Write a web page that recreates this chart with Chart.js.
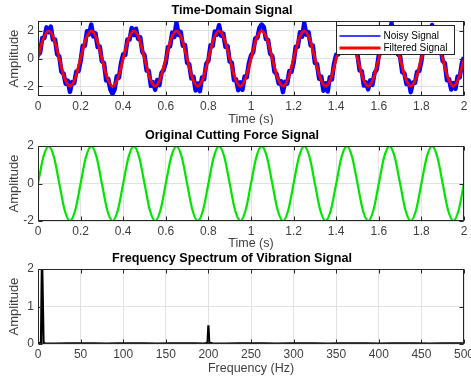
<!DOCTYPE html>
<html>
<head>
<meta charset="utf-8">
<script src="https://cdn.jsdelivr.net/npm/chart.js@4/dist/chart.umd.min.js"></script>
<style>
  html, body { margin: 0; padding: 0; background: #fff; }
  .painel { position: absolute; left: 0; width: 471px; height: 125px; }
</style>
</head>
<body>
<div class="painel" style="top:0"><canvas id="graficoTempo"></canvas></div>
<div class="painel" style="top:125px; height:129px"><canvas id="graficoForca"></canvas></div>
<div class="painel" style="top:248px; height:132px"><canvas id="graficoEspectro"></canvas></div>
<script>
// amostras finas (sinal com ruido), passo 0.01 s
const timeFine = [
  0, 0.01, 0.02, 0.03, 0.04, 0.05, 0.06, 0.07, 0.08, 0.09, 0.1, 0.11, 0.12, 0.13, 0.14, 0.15, 0.16, 0.17, 0.18, 0.19,
  0.2, 0.21, 0.22, 0.23, 0.24, 0.25, 0.26, 0.27, 0.28, 0.29, 0.3, 0.31, 0.32, 0.33, 0.34, 0.35, 0.36, 0.37, 0.38, 0.39,
  0.4, 0.41, 0.42, 0.43, 0.44, 0.45, 0.46, 0.47, 0.48, 0.49, 0.5, 0.51, 0.52, 0.53, 0.54, 0.55, 0.56, 0.57, 0.58, 0.59,
  0.6, 0.61, 0.62, 0.63, 0.64, 0.65, 0.66, 0.67, 0.68, 0.69, 0.7, 0.71, 0.72, 0.73, 0.74, 0.75, 0.76, 0.77, 0.78, 0.79,
  0.8, 0.81, 0.82, 0.83, 0.84, 0.85, 0.86, 0.87, 0.88, 0.89, 0.9, 0.91, 0.92, 0.93, 0.94, 0.95, 0.96, 0.97, 0.98, 0.99,
  1, 1.01, 1.02, 1.03, 1.04, 1.05, 1.06, 1.07, 1.08, 1.09, 1.1, 1.11, 1.12, 1.13, 1.14, 1.15, 1.16, 1.17, 1.18, 1.19,
  1.2, 1.21, 1.22, 1.23, 1.24, 1.25, 1.26, 1.27, 1.28, 1.29, 1.3, 1.31, 1.32, 1.33, 1.34, 1.35, 1.36, 1.37, 1.38, 1.39,
  1.4, 1.41, 1.42, 1.43, 1.44, 1.45, 1.46, 1.47, 1.48, 1.49, 1.5, 1.51, 1.52, 1.53, 1.54, 1.55, 1.56, 1.57, 1.58, 1.59,
  1.6, 1.61, 1.62, 1.63, 1.64, 1.65, 1.66, 1.67, 1.68, 1.69, 1.7, 1.71, 1.72, 1.73, 1.74, 1.75, 1.76, 1.77, 1.78, 1.79,
  1.8, 1.81, 1.82, 1.83, 1.84, 1.85, 1.86, 1.87, 1.88, 1.89, 1.9, 1.91, 1.92, 1.93, 1.94, 1.95, 1.96, 1.97, 1.98, 1.99,
  2
];
const noisySignal = [
  0.25, 0.42, 1.48, 1.47, 2.25, 1.90, 2.30, 1.37, 1.38, 0.32, 0.15, -0.97, -1.08, -1.82, -1.60, -2.40, -1.70, -1.77, -0.93, -0.92,
  -0.20, 0.92, 0.93, 1.97, 1.75, 2.45, 1.60, 1.82, 0.83, 0.87, -0.20, -0.32, -1.58, -1.47, -2.25, -2.55, -2.20, -1.27, -1.38, -0.32,
  0.30, 0.27, 1.38, 1.37, 2.20, 1.70, 2.15, 1.42, 1.53, 0.47, 0.25, -0.87, -0.88, -1.97, -1.70, -2.25, -1.55, -1.92, -1.03, -0.82,
  -0.30, 0.82, 0.88, 1.87, 1.55, 2.60, 1.70, 1.92, 0.93, 0.97, -0.30, -0.42, -1.43, -1.32, -2.30, -1.80, -2.35, -1.37, -1.48, -0.37,
  -0.15, 0.95, 0.90, 1.95, 1.72, 2.40, 1.65, 1.80, 0.85, 0.90, -0.22, -0.30, -1.55, -1.50, -2.28, -1.72, -2.25, -1.30, -1.35, -0.35,
  0.22, 0.45, 1.45, 1.50, 2.22, 2.45, 2.28, 1.40, 1.35, 0.35, 0.18, -0.95, -1.10, -1.80, -1.62, -2.42, -1.68, -1.80, -0.90, -0.95,
  -0.28, 0.85, 0.86, 1.90, 1.58, 2.55, 1.72, 1.90, 0.95, 0.95, -0.32, -0.40, -1.45, -1.30, -2.32, -1.78, -2.38, -1.35, -1.50, -0.35,
  0.28, 0.30, 1.40, 1.35, 2.22, 1.72, 2.18, 1.40, 1.55, 0.45, 0.27, -0.85, -0.90, -1.95, -1.72, -2.22, -1.57, -1.90, -1.05, -0.80,
  0.24, 0.44, 1.46, 1.49, 2.24, 1.92, 2.55, 1.35, 1.40, 0.30, 0.16, -0.98, -1.06, -1.84, -1.58, -2.42, -1.72, -1.75, -0.95, -0.90,
  -0.18, 0.90, 0.95, 1.95, 1.77, 2.42, 1.62, 1.80, 0.85, 0.85, -0.18, -0.34, -1.56, -1.49, -2.23, -1.77, -2.18, -1.29, -1.36, -0.34,
  0.10
];

// amostras grossas (sinal limpo / filtrado), passo 0.025 s
const timeCoarse = [
  0, 0.025, 0.05, 0.075, 0.1, 0.125, 0.15, 0.175,
  0.2, 0.225, 0.25, 0.275, 0.3, 0.325, 0.35, 0.375,
  0.4, 0.425, 0.45, 0.475, 0.5, 0.525, 0.55, 0.575,
  0.6, 0.625, 0.65, 0.675, 0.7, 0.725, 0.75, 0.775,
  0.8, 0.825, 0.85, 0.875, 0.9, 0.925, 0.95, 0.975,
  1, 1.025, 1.05, 1.075, 1.1, 1.125, 1.15, 1.175,
  1.2, 1.225, 1.25, 1.275, 1.3, 1.325, 1.35, 1.375,
  1.4, 1.425, 1.45, 1.475, 1.5, 1.525, 1.55, 1.575,
  1.6, 1.625, 1.65, 1.675, 1.7, 1.725, 1.75, 1.775,
  1.8, 1.825, 1.85, 1.875, 1.9, 1.925, 1.95, 1.975,
  2
];
const filteredSignal = [
  0.05, 1.43, 1.99, 1.40, -0.02, -1.42, -1.99, -1.40,
  0.01, 1.42, 2.00, 1.41, -0.01, -1.41, -2.00, -1.42,
  0.00, 1.41, 2.00, 1.42, 0.01, -1.40, -2.00, -1.41,
  0.00, 1.42, 2.00, 1.41, 0.00, -1.41, -2.00, -1.41,
  0.01, 1.41, 2.00, 1.41, 0.00, -1.42, -2.00, -1.41,
  0.00, 1.41, 2.00, 1.41, -0.01, -1.41, -2.00, -1.41,
  0.00, 1.42, 2.00, 1.41, 0.00, -1.41, -2.00, -1.42,
  0.01, 1.41, 2.00, 1.41, 0.00, -1.41, -2.00, -1.41,
  0.00, 1.41, 2.00, 1.42, 0.00, -1.41, -2.00, -1.41,
  0.00, 1.41, 2.00, 1.41, 0.00, -1.41, -2.00, -1.41,
  -0.02
];
const cuttingForce = [
  0, 1.41, 2, 1.41, 0, -1.41, -2, -1.41,
  0, 1.41, 2, 1.41, 0, -1.41, -2, -1.41,
  0, 1.41, 2, 1.41, 0, -1.41, -2, -1.41,
  0, 1.41, 2, 1.41, 0, -1.41, -2, -1.41,
  0, 1.41, 2, 1.41, 0, -1.41, -2, -1.41,
  0, 1.41, 2, 1.41, 0, -1.41, -2, -1.41,
  0, 1.41, 2, 1.41, 0, -1.41, -2, -1.41,
  0, 1.41, 2, 1.41, 0, -1.41, -2, -1.41,
  0, 1.41, 2, 1.41, 0, -1.41, -2, -1.41,
  0, 1.41, 2, 1.41, 0, -1.41, -2, -1.41,
  0
];

// espectro
const frequency = [0, 2, 3.5, 4.5, 5, 5.5, 6.5, 8, 20, 35, 50, 65, 80, 95, 110, 125, 140, 155, 170, 185, 195, 199, 200, 201, 205,
  220, 235, 250, 265, 280, 295, 310, 325, 340, 355, 370, 385, 400, 415, 430, 445, 460, 475, 490, 500];
const spectrumAmp = [0.02, 0.03, 0.04, 2.0, 2.0, 2.0, 0.04, 0.02, 0.01, 0.02, 0.015, 0.02, 0.01, 0.02, 0.015, 0.02, 0.01, 0.02, 0.015, 0.02, 0.01, 0.03, 0.5, 0.03, 0.02,
  0.01, 0.02, 0.015, 0.02, 0.01, 0.02, 0.015, 0.02, 0.01, 0.02, 0.015, 0.02, 0.01, 0.02, 0.015, 0.02, 0.01, 0.02, 0.015, 0.02];

const yTicksTempo = [-2, 0, 2];
const yTicksEspectro = [0, 1, 2];

const fonte = 'Liberation Sans, Arial, Helvetica, sans-serif';
const corTexto = '#404040';
const corGrade = '#e2e2e2';
const corEixo = '#262626';

function pares(xs, ys) {
    return ys.map((v, i) => ({ x: xs[i], y: v }));
}

function fmt(v) {
    return String(Math.round(v * 100) / 100);
}

// caixa em volta do grafico + ticks internos (estilo MATLAB) + legenda interna
const caixaPlugin = {
    id: 'caixa',
    afterDraw(chart, args, opts) {
        const ctx = chart.ctx, a = chart.chartArea;
        const L = Math.round(a.left) + 0.5, R = Math.round(a.right) - 0.5;
        const T = Math.round(a.top) + 0.5, B = Math.round(a.bottom) - 0.5;
        ctx.save();
        ctx.strokeStyle = corEixo;
        ctx.lineWidth = 1;
        ctx.beginPath();
        chart.scales.x.ticks.forEach(t => {
            const p = Math.round(chart.scales.x.getPixelForValue(t.value)) + 0.5;
            ctx.moveTo(p, B); ctx.lineTo(p, B - 4);
            ctx.moveTo(p, T); ctx.lineTo(p, T + 4);
        });
        chart.scales.y.ticks.forEach(t => {
            const p = Math.round(chart.scales.y.getPixelForValue(t.value)) + 0.5;
            ctx.moveTo(L, p); ctx.lineTo(L + 4, p);
            ctx.moveTo(R, p); ctx.lineTo(R - 4, p);
        });
        ctx.stroke();
        ctx.strokeRect(L, T, R - L, B - T);

        if (opts.legenda) {
            const lg = opts.legenda;
            const x0 = Math.round(a.right - lg.right - lg.width) + 0.5;
            const y0 = Math.round(a.top + lg.top) + 0.5;
            ctx.fillStyle = '#fff';
            ctx.fillRect(x0, y0, lg.width, lg.height);
            ctx.strokeStyle = corEixo;
            ctx.lineWidth = 1;
            ctx.strokeRect(x0, y0, lg.width, lg.height);
            ctx.font = '10px ' + fonte;
            ctx.textBaseline = 'middle';
            chart.data.datasets.forEach((ds, i) => {
                const y = Math.round(y0 + 10 + i * 12);
                ctx.strokeStyle = ds.borderColor;
                ctx.lineWidth = lg.larguras[i];
                ctx.beginPath();
                ctx.moveTo(x0 + 3, y); ctx.lineTo(x0 + 44, y);
                ctx.stroke();
                ctx.fillStyle = '#000';
                ctx.fillText(ds.label, x0 + 47, y);
            });
        }
        ctx.restore();
    }
};

function opcoes(cfg) {
    return {
        responsive: true,
        maintainAspectRatio: false,
        animation: false,
        layout: { padding: { left: 0, right: 7, top: 0, bottom: cfg.padBottom || 0 } },
        elements: { point: { radius: 0 } },
        scales: {
            x: {
                type: 'linear',
                min: cfg.xMin,
                max: cfg.xMax,
                ticks: { stepSize: cfg.xStep, autoSkip: false, maxRotation: 0, color: corTexto, font: { family: fonte, size: 12 }, padding: 3, callback: fmt },
                grid: { color: corGrade, drawTicks: false },
                border: { display: false },
                title: { display: true, text: cfg.xTitle, color: corTexto, font: { family: fonte, size: 12.5 }, padding: { top: 0, bottom: cfg.xTitlePad } },
                afterFit(s) { s.height = 29; s.paddingLeft = 0; s.paddingRight = 0; }
            },
            y: {
                type: 'linear',
                min: cfg.yMin,
                max: cfg.yMax,
                afterBuildTicks(s) { s.ticks = cfg.yTicks.map(v => ({ value: v })); },
                ticks: { color: corTexto, font: { family: fonte, size: 12 }, padding: 4, callback: fmt },
                grid: { color: corGrade, drawTicks: false },
                border: { display: false },
                title: { display: true, text: 'Amplitude', color: corTexto, font: { family: fonte, size: 13 }, padding: { top: 7, bottom: 0 } },
                afterFit(s) { s.width = 38; s.paddingTop = 0; s.paddingBottom = 0; }
            }
        },
        plugins: {
            legend: { display: false },
            tooltip: { enabled: false },
            title: {
                display: true,
                text: cfg.title,
                color: '#000',
                font: { family: fonte, size: 12.6, weight: 'bold' },
                padding: { top: 3, bottom: 3 }
            },
            caixa: { legenda: cfg.legenda || null }
        }
    };
}

// Grafico 1 - sinal no dominio do tempo
new Chart(document.getElementById('graficoTempo'), {
    type: 'line',
    data: {
        datasets: [{
            label: 'Noisy Signal',
            data: pares(timeFine, noisySignal),
            borderColor: '#0000ff',
            borderWidth: 4.5,
            borderJoinStyle: 'round',
            order: 1
        }, {
            label: 'Filtered Signal',
            data: pares(timeCoarse, filteredSignal),
            borderColor: '#ff0000',
            borderWidth: 2.8,
            cubicInterpolationMode: 'monotone',
            order: 0
        }]
    },
    options: opcoes({
        title: 'Time-Domain Signal', xTitle: 'Time (s)',
        xMin: 0, xMax: 2, xStep: 0.2, yMin: -2.7, yMax: 2.7, yTicks: yTicksTempo,
        xTitlePad: -2,
        legenda: { right: 10, top: 4, width: 118, height: 29, larguras: [1.6, 2.8] }
    }),
    plugins: [caixaPlugin]
});

// Grafico 2 - forca de corte original
new Chart(document.getElementById('graficoForca'), {
    type: 'line',
    data: {
        datasets: [{
            label: 'Original Cutting Force',
            data: pares(timeCoarse, cuttingForce),
            borderColor: '#00e600',
            borderWidth: 2.2,
            cubicInterpolationMode: 'monotone'
        }]
    },
    options: opcoes({
        title: 'Original Cutting Force Signal', xTitle: 'Time (s)',
        xMin: 0, xMax: 2, xStep: 0.2, yMin: -2, yMax: 2, yTicks: yTicksTempo,
        xTitlePad: -1, padBottom: 4
    }),
    plugins: [caixaPlugin]
});

// Grafico 3 - espectro de frequencia
new Chart(document.getElementById('graficoEspectro'), {
    type: 'line',
    data: {
        datasets: [{
            label: 'Spectrum',
            data: pares(frequency, spectrumAmp),
            borderColor: '#000',
            borderWidth: 2.2
        }]
    },
    options: opcoes({
        title: 'Frequency Spectrum of Vibration Signal', xTitle: 'Frequency (Hz)',
        xMin: 0, xMax: 500, xStep: 50, yMin: 0, yMax: 2, yTicks: yTicksEspectro,
        xTitlePad: -3, padBottom: 7
    }),
    plugins: [caixaPlugin]
});
</script>
</body>
</html>
